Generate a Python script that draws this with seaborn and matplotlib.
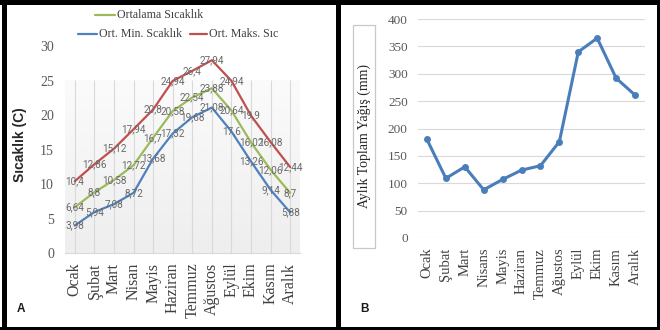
import numpy as np
import pandas as pd
import matplotlib
matplotlib.use("Agg")
import matplotlib.pyplot as plt
from matplotlib import font_manager
import seaborn as sns
from matplotlib.lines import Line2D
from matplotlib.patches import Rectangle
from matplotlib.colors import LinearSegmentedColormap

# --- data -------------------------------------------------------------
months_a = ["Ocak", "Şubat", "Mart", "Nisan", "Mayis", "Haziran", "Temmuz",
            "Ağustos", "Eylül", "Ekim", "Kasım", "Aralık"]
months_b = ["Ocak", "Şubat", "Mart", "Nisans", "Mayis", "Haziran", "Temmuz",
            "Ağustos", "Eylül", "Ekim", "Kasım", "Aralık"]

series_names = ["Ortalama Sıcaklık", "Ort. Min. Scaklık", "Ort. Maks. Sıc"]
t_avg = [6.64, 8.8, 10.58, 12.72, 16.7, 20.58, 22.54, 23.88, 20.64, 16.02, 12.06, 8.7]
t_min = [3.98, 5.94, 7.08, 8.72, 13.68, 17.32, 19.68, 21.08, 17.6, 13.26, 9.14, 5.88]
t_max = [10.4, 12.86, 15.12, 17.94, 20.8, 24.94, 26.4, 27.94, 24.94, 19.9, 16.08, 12.44]

rain = [180, 109, 130, 88, 107, 124, 132, 176, 340, 365, 292, 261]

colors = {"Ortalama Sıcaklık": "#9BBB59",
          "Ort. Min. Scaklık": "#4F81BD",
          "Ort. Maks. Sıc": "#C0504D"}

# --- style ------------------------------------------------------------
sns.set_theme(style="white")
plt.rcParams["font.family"] = ["Liberation Serif", "DejaVu Serif"]

installed = {f.name for f in font_manager.fontManager.ttflist}
if "Liberation Sans Narrow" in installed:
    value_font, value_size = "Liberation Sans Narrow", 8
else:
    value_font, value_size = "Roboto", 7.2

W, H = 660, 330
fig = plt.figure(figsize=(6.6, 3.3), dpi=100)
fig.patch.set_facecolor("white")


def fx(x):
    return x / W


def fy(y):
    return 1 - y / H


# --- panel A: temperatures -------------------------------------------
axA = fig.add_axes([fx(65), fy(253), fx(300) - fx(65), fy(46) - fy(253)])
temp = pd.DataFrame({
    "Ay": months_a * 3,
    "Seri": sum([[n] * 12 for n in series_names], []),
    "Sıcaklık": t_avg + t_min + t_max,
})

ymax_a = 30
gray_top = ymax_a * (253 - 80) / (253 - 46)
grad = np.linspace(0, 1, 256).reshape(-1, 1)
cmap = LinearSegmentedColormap.from_list("bg", ["#eeeeee", "#fbfbfb"])
axA.imshow(grad, extent=(-0.5, 11.5, 0, gray_top), origin="lower",
           aspect="auto", cmap=cmap, zorder=0)
axA.vlines(range(12), 0, gray_top, color="#d9d9d9", lw=0.8, zorder=1)

sns.lineplot(data=temp, x="Ay", y="Sıcaklık", hue="Seri",
             hue_order=series_names, palette=colors, sort=False,
             legend=False, lw=1.6, ax=axA, zorder=3)

label_font = dict(family=[value_font, "DejaVu Sans"],
                  fontsize=value_size, color="#6a6a6a")
for vals in (t_avg, t_min, t_max):
    for i, v in enumerate(vals):
        axA.text(i, v, f"{v:g}".replace(".", ","), ha="center", va="center",
                 zorder=4, **label_font)

axA.set_xlim(-0.5, 11.5)
axA.set_ylim(0, ymax_a)
axA.set_yticks(range(0, 31, 5))
axA.set_xticks(range(12))
axA.set_xticklabels(months_a, rotation=90, fontsize=11.5, color="#404040")
axA.tick_params(axis="x", length=0, pad=7)
axA.tick_params(axis="y", length=0, pad=8, labelsize=10, labelcolor="#595959")
axA.set_xlabel("")
axA.set_ylabel("")
for s in ("top", "right", "left"):
    axA.spines[s].set_visible(False)
axA.spines["bottom"].set_color("#d9d9d9")
axA.spines["bottom"].set_linewidth(0.8)
axA.set_facecolor("none")

fig.text(fx(20), fy(145), "Sıcaklık (C)", rotation=90, ha="center",
         va="center", fontsize=10, fontweight="bold", color="#262626",
         family=["Liberation Sans", "DejaVu Sans"])

# legend
leg_font = dict(fontsize=8.6, color="#404040", va="center", ha="left")
fig.add_artist(Line2D([fx(95), fx(115)], [fy(15), fy(15)],
                      color=colors[series_names[0]], lw=1.6))
fig.text(fx(117), fy(15), series_names[0], **leg_font)
fig.add_artist(Line2D([fx(78), fx(97)], [fy(34), fy(34)],
                      color=colors[series_names[1]], lw=1.6))
fig.text(fx(99), fy(34), series_names[1], **leg_font)
fig.add_artist(Line2D([fx(190), fx(207)], [fy(34), fy(34)],
                      color=colors[series_names[2]], lw=1.6))
fig.text(fx(209), fy(34), series_names[2], **leg_font)

# --- panel B: monthly precipitation -----------------------------------
axB = fig.add_axes([fx(417.5), fy(238), fx(644.5) - fx(417.5), fy(19) - fy(238)])
precip = pd.DataFrame({"Ay": months_b, "Yağış": rain})
sns.lineplot(data=precip, x="Ay", y="Yağış", sort=False, color="#4A7EBB",
             lw=2.2, marker="o", markersize=5, markeredgewidth=0, ax=axB,
             zorder=3)
axB.set_xlim(-0.5, 11.5)
axB.set_ylim(0, 400)
axB.set_yticks(range(0, 401, 50))
axB.set_xticks(range(12))
axB.set_xticklabels(months_b, rotation=90, fontsize=10.5, color="#404040")
axB.tick_params(axis="x", length=0, pad=7)
axB.tick_params(axis="y", length=0, pad=7, labelsize=9.5, labelcolor="#595959")
axB.grid(axis="y", color="#d9d9d9", lw=0.8)
axB.grid(axis="x", visible=False)
axB.set_xlabel("")
axB.set_ylabel("")
for s in ("top", "right", "left", "bottom"):
    axB.spines[s].set_visible(False)

# boxed y-axis title
fig.add_artist(Rectangle((fx(353), fy(248)), fx(375) - fx(353), fy(25) - fy(248),
                         transform=fig.transFigure, facecolor="white",
                         edgecolor="#c8c8c8", lw=0.9))
fig.text(fx(364), fy(136.5), "Aylık Toplam Yağış (mm)", rotation=90,
         ha="center", va="center", fontsize=10, color="#262626")

# --- panel letters and frames -----------------------------------------
fig.text(fx(21), fy(309), "A", ha="center", va="center", fontsize=8.5,
         fontweight="bold", color="#1a1a1a", family=["Liberation Sans", "DejaVu Sans"])
fig.text(fx(365), fy(309), "B", ha="center", va="center", fontsize=8.5,
         fontweight="bold", color="#1a1a1a", family=["Liberation Sans", "DejaVu Sans"])


def frame(x0, y0, x1, y1):
    fig.add_artist(Rectangle((fx(x0), fy(y1)), fx(x1) - fx(x0), fy(y0) - fy(y1),
                             transform=fig.transFigure, facecolor="black",
                             edgecolor="none", zorder=10))


frame(0, 0, 660, 5)       # top
frame(2, 0, 7, 330)       # left
frame(336, 0, 341, 330)   # divider
frame(0, 327, 660, 330)   # bottom
frame(657, 0, 660, 330)   # right

fig.savefig("out.png", dpi=100, facecolor="white")
